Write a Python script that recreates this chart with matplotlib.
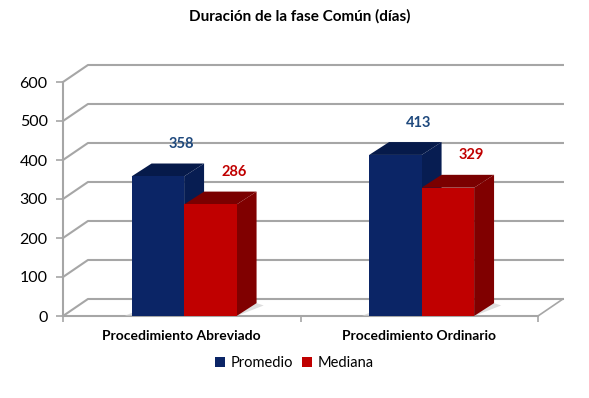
import matplotlib.pyplot as plt
from matplotlib.patches import Polygon, Patch

categories = ['Procedimiento Abreviado', 'Procedimiento Ordinario']
promedio = [358, 413]
mediana = [286, 329]
yticks = [0, 100, 200, 300, 400, 500, 600]

plt.rcParams['font.family'] = ['Lato', 'DejaVu Sans']

fig = plt.figure(figsize=(5.89, 3.98), dpi=100)
ax = fig.add_axes([63/589, 82/398, 475/589, 234/398])
ax.set_xlim(0, 2)
ax.set_ylim(0, 600)

# depth offsets (data units) for the fake 3D look
wdx, wdy = 0.105, 43.6   # back wall
bdx, bdy = 0.084, 33.0   # bar depth
grid_c = '#a6a6a6'

for v in yticks:
    ax.plot([0, wdx, 2 + wdx], [v, v + wdy, v + wdy], color=grid_c, lw=1.5,
            clip_on=False, zorder=1)
ax.plot([2, 2 + wdx], [0, wdy], color=grid_c, lw=1.2, clip_on=False, zorder=1)

bw = 0.221
shift = 0.01


def bar3d(x0, h, front, top, side):
    x1 = x0 + bw
    ax.add_patch(Polygon([(x1, 0), (x1 + bdx, bdy), (x1 + bdx, h + bdy), (x1, h)],
                         closed=True, fc=side, ec='none', clip_on=False, zorder=3))
    ax.add_patch(Polygon([(x0, h), (x0 + bdx, h + bdy), (x1 + bdx, h + bdy), (x1, h)],
                         closed=True, fc=top, ec='none', clip_on=False, zorder=3))
    ax.add_patch(Polygon([(x0, 0), (x0, h), (x1, h), (x1, 0)],
                         closed=True, fc=front, ec='none', clip_on=False, zorder=3))


for i in range(len(categories)):
    c = i + 0.5 + shift
    # soft floor shadow
    ax.add_patch(Polygon([(c - bw - 0.03, 0), (c - bw, 8), (c + bw + bdx, bdy),
                          (c + bw + bdx + 0.03, bdy - 6), (c + bw, 0)],
                         closed=True, fc='#d0d0d0', ec='none', alpha=0.7,
                         clip_on=False, zorder=2))
    bar3d(c - bw, promedio[i], '#0b2566', '#061a4a', '#071d52')
    bar3d(c, mediana[i], '#c00000', '#7a0000', '#800000')
    ax.text(c - bw / 2 + 0.1, promedio[i] + 83, str(promedio[i]), color='#1f497d',
            fontsize=10.5, fontweight='bold', ha='center', va='center', zorder=5)
    ax.text(c + bw / 2 + 0.1, mediana[i] + 83, str(mediana[i]), color='#c00000',
            fontsize=10.5, fontweight='bold', ha='center', va='center', zorder=5)

for s in ['top', 'right']:
    ax.spines[s].set_visible(False)
for s in ['left', 'bottom']:
    ax.spines[s].set_color(grid_c)
    ax.spines[s].set_linewidth(1.5)
    ax.spines[s].set_zorder(1)

ax.set_yticks(yticks)
ax.tick_params(axis='y', length=5, width=1.2, color=grid_c, labelsize=11.5, pad=6)
ax.set_xticks([0, 1, 2])
ax.set_xticklabels([])
ax.tick_params(axis='x', which='major', length=4, width=1.2, color=grid_c)
ax.set_xticks([0.5, 1.5], minor=True)
ax.set_xticklabels(categories, minor=True, fontsize=10, fontweight='bold')
ax.tick_params(axis='x', which='minor', length=0, pad=10)

fig.text(0.509, 1 - 16/398, 'Duración de la fase Común (días)', ha='center', va='center',
         fontsize=11, fontweight='bold')

handles = [Patch(fc='#0b2566', label='Promedio'), Patch(fc='#c00000', label='Mediana')]
fig.legend(handles=handles, loc='center', bbox_to_anchor=(0.5, 1 - 363/398), ncol=2,
           frameon=False, fontsize=10.5, handlelength=0.7, handleheight=0.7,
           handletextpad=0.4, columnspacing=0.6)

fig.savefig('out.png', dpi=100)
